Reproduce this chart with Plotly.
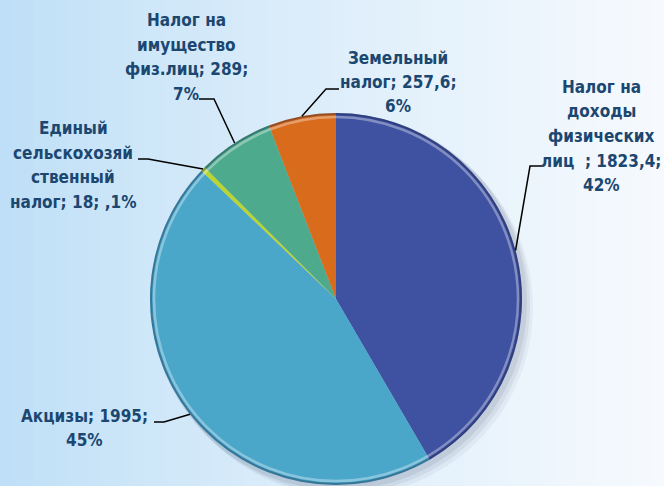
import math
import plotly.graph_objects as go

# ---- data ----
labels = ["Налог на доходы физических лиц", "Акцизы", "Единый сельскохозяйственный налог",
          "Налог на имущество физ.лиц", "Земельный налог"]
values = [1823.4, 1995, 18, 289, 257.6]
label_texts = [
    "Налог на<br>доходы<br>физических<br>лиц  ; 1823,4;<br>42%",
    "Акцизы; 1995;<br>45%",
    "Единый<br>сельскохозяй<br>ственный<br>налог; 18; ,1%",
    "Налог на<br>имущество<br>физ.лиц; 289;<br>7%",
    "Земельный<br>налог; 257,6;<br>6%",
]
colors = ["#3F52A2", "#4AA7CA", "#B9D532", "#4DAA8C", "#D86B1C"]

W, H = 664, 486
# pie geometry (pixels)
CX, CY, R = 336, 299, 186
LINE_STEP = 24.5

# label layout (pixels): text centre, elbow point, horizontal end next to text
label_pos = [(601, 136), (84, 428), (73, 165), (186, 57), (398, 82)]
leader_h = [(542, 166), (154, 422), (138, 159), (199, 99), (339, 89)]
leader_e = [(530, 166), (164, 422), (148, 159), (214, 99), (326, 89)]

def px(x):
    return x / W

def py(y):
    return 1 - y / H

fig = go.Figure()

# background gradient (left light blue -> right near white)
n = 60
for i in range(n):
    t = i / (n - 1)
    r = int(190 + (246 - 190) * t ** 0.8)
    g = int(223 + (250 - 223) * t ** 0.8)
    b = int(247 + (254 - 247) * t ** 0.8)
    fig.add_shape(type="rect", xref="paper", yref="paper",
                  x0=i / n, x1=(i + 1) / n + 0.002, y0=0, y1=1,
                  fillcolor=f"rgb({r},{g},{b})", line_width=0, layer="below")

# soft shadow behind the pie
for off, op in [(9, 0.05), (6, 0.07), (3, 0.09)]:
    fig.add_shape(type="circle", xref="paper", yref="paper",
                  x0=px(CX - R + off - 2), x1=px(CX + R + off + 2),
                  y0=py(CY + R + off + 2), y1=py(CY - R + off - 2),
                  fillcolor=f"rgba(40,60,90,{op})", line_width=0, layer="below")

fig.add_trace(go.Pie(
    labels=labels, values=values, sort=False, direction="clockwise", rotation=0,
    marker=dict(colors=colors, line=dict(width=0)),
    textinfo="none", hoverinfo="label+value+percent", showlegend=False,
    domain=dict(x=[px(CX - R), px(CX + R)], y=[py(CY + R), py(CY - R)]),
))

# rim bevel: light highlight and dark edge
fig.add_shape(type="circle", xref="paper", yref="paper",
              x0=px(CX - R + 4), x1=px(CX + R - 4), y0=py(CY + R - 4), y1=py(CY - R + 4),
              line=dict(color="rgba(255,255,255,0.35)", width=2.5), layer="above")
fig.add_shape(type="circle", xref="paper", yref="paper",
              x0=px(CX - R + 1), x1=px(CX + R - 1), y0=py(CY + R - 1), y1=py(CY - R + 1),
              line=dict(color="rgba(20,30,60,0.35)", width=2), layer="above")

# labels and leader lines
total = sum(values)
cum = 0
for i, v in enumerate(values):
    mid = (cum + v / 2) / total * 2 * math.pi
    cum += v
    ex = CX + R * math.sin(mid)
    ey = CY - R * math.cos(mid)
    (hx, hy), (bx, by) = leader_h[i], leader_e[i]
    fig.add_shape(type="path", xref="paper", yref="paper",
                  path=f"M {px(hx)} {py(hy)} L {px(bx)} {py(by)} L {px(ex)} {py(ey)}",
                  line=dict(color="black", width=1.5), layer="above")
    lx, ly = label_pos[i]
    lines = label_texts[i].split("<br>")
    for j, line in enumerate(lines):
        yy = ly + (j - (len(lines) - 1) / 2) * LINE_STEP
        fig.add_annotation(x=px(lx), y=py(yy), xref="paper", yref="paper",
                           text=line.replace("  ", "&nbsp; "), showarrow=False, align="center",
                           xanchor="center", yanchor="middle",
                           font=dict(family="DejaVu Sans Condensed, Liberation Sans Narrow, Liberation Sans",
                                     size=17, color="#1B4770", weight="bold"))

fig.update_layout(width=W, height=H, margin=dict(l=0, r=0, t=0, b=0),
                  paper_bgcolor="white", plot_bgcolor="white")
fig.write_html("out.html", config={"displayModeBar": False},
               post_script="document.body.style.margin='0';")
